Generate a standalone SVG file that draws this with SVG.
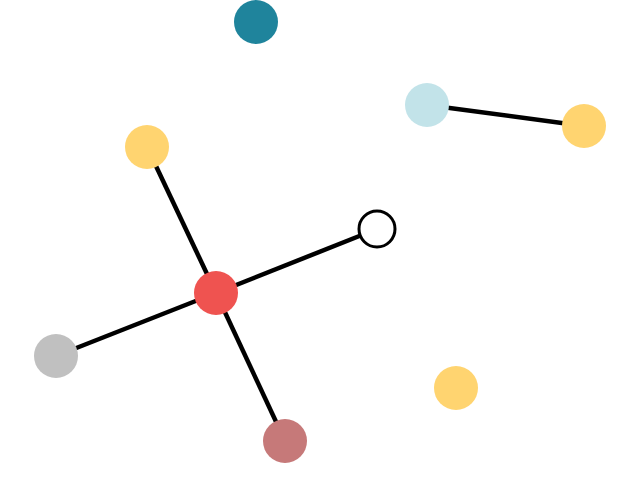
<svg xmlns="http://www.w3.org/2000/svg" width="640" height="480" viewBox="0 0 640 480">
<style>
.e{stroke:#000;stroke-width:4.5;fill:none}
</style>
<rect width="640" height="480" fill="#fff"/>
<g id="edges">
<line class="e" x1="216" y1="293" x2="147" y2="147"/>
<line class="e" x1="216" y1="293" x2="377" y2="229"/>
<line class="e" x1="216" y1="293" x2="56" y2="356"/>
<line class="e" x1="216" y1="293" x2="285" y2="441"/>
<line class="e" x1="427" y1="105" x2="584" y2="126"/>
</g>
<g id="n1"><circle cx="256" cy="22" r="22" fill="#1f849c"/></g>
<g id="n2"><circle cx="427" cy="105" r="22" fill="#c2e3e9"/></g>
<g id="n3"><circle cx="584" cy="126" r="22" fill="#ffd470"/></g>
<g id="n4"><circle cx="147" cy="147" r="22" fill="#ffd470"/></g>
<g id="n5"><circle cx="377" cy="229" r="18" fill="#fff" stroke="#000" stroke-width="3"/></g>
<g id="n6"><circle cx="216" cy="293" r="22" fill="#ef5350"/></g>
<g id="n7"><circle cx="56" cy="356" r="22" fill="#c0c0c0"/></g>
<g id="n8"><circle cx="456" cy="388" r="22" fill="#ffd470"/></g>
<g id="n9"><circle cx="285" cy="441" r="22" fill="#c67979"/></g>
</svg>
